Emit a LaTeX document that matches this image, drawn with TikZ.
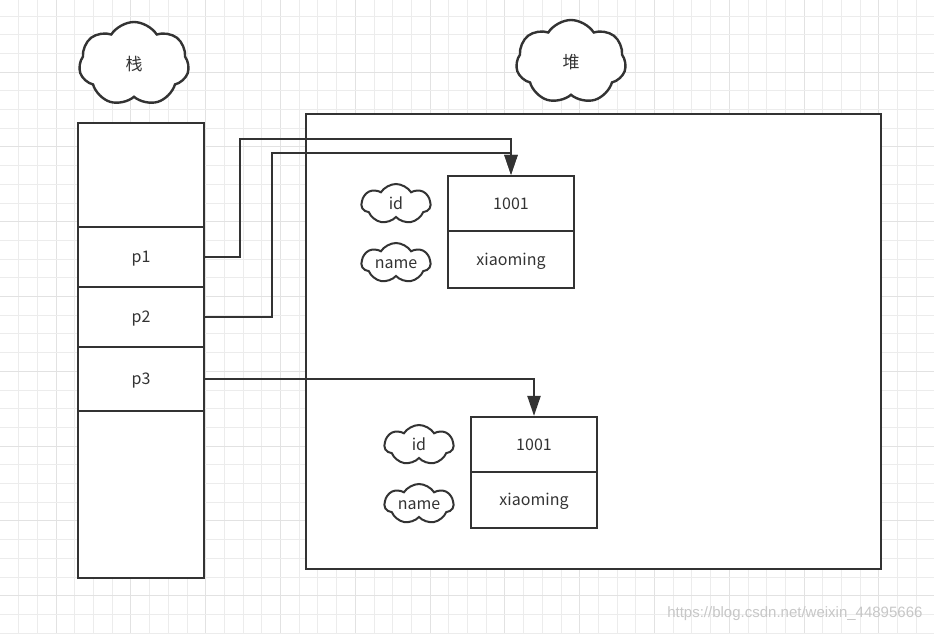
\documentclass[tikz,border=0pt]{standalone}
\usepackage{fontspec}
\setmainfont{Noto Sans CJK SC}
\newfontfamily\wmfont{Liberation Sans}
\usetikzlibrary{shapes.symbols,arrows.meta}
\definecolor{ink}{HTML}{333333}
\definecolor{gridc}{HTML}{ECECEC}
\definecolor{gridm}{HTML}{E2E2E2}
\begin{document}
\begin{tikzpicture}[x=1pt,y=-1pt,
  box/.style={draw=ink, line width=2.2pt, fill=white, rectangle, inner sep=0pt,
    font=\fontsize{16}{16}\selectfont, text=ink, text height=11.5pt, text depth=0pt},
  bigcloud/.style={draw=ink, line width=2.4pt, fill=white, cloud, cloud puffs=7,
    cloud puff arc=115, inner sep=0pt, minimum width=110pt, minimum height=84pt},
  smallcloud/.style={draw=ink, line width=2pt, fill=white, cloud, cloud puffs=7,
    cloud puff arc=115, inner sep=0pt, minimum width=69pt, minimum height=40pt},
  lbl/.style={inner sep=0pt, font=\fontsize{16}{16}\selectfont, text=ink, text height=11.5pt, text depth=0pt},
  biglbl/.style={inner sep=0pt, font=\fontsize{17}{17}\selectfont, text=ink},
  conn/.style={draw=ink, line width=2.2pt, -{Triangle[length=20pt,width=13pt]}}
]
\fill[white] (0,0) rectangle (934,633);
\useasboundingbox (0,0) rectangle (934,633);
% grid
\foreach \i in {1,...,49} {
  \pgfmathtruncatemacro{\m}{mod(\i,4)==3 ? 1 : 0}
  \ifnum\m=1 \draw[gridm, line width=1pt] (\i*18.7,0) -- (\i*18.7,633);
  \else \draw[gridc, line width=1pt] (\i*18.7,0) -- (\i*18.7,633); \fi
}
\foreach \j in {1,...,34} {
  \pgfmathtruncatemacro{\m}{mod(\j,4)==0 ? 1 : 0}
  \ifnum\m=1 \draw[gridm, line width=1pt] (0,\j*18.7-2.7) -- (934,\j*18.7-2.7);
  \else \draw[gridc, line width=1pt] (0,\j*18.7-2.7) -- (934,\j*18.7-2.7); \fi
}
% clouds
\node[bigcloud] (stackc) at (134,64) {};
\node[biglbl] (stackl) at (stackc.center) {栈};
\node[bigcloud] (heapc) at (571,62) {};
\node[biglbl] (heapl) at (heapc.center) {堆};
% heap
\node[box, minimum width=575pt, minimum height=455pt] (heap) at (593.5,341.5) {};
% stack
\node[box, minimum width=126pt, minimum height=104pt] (s0) at (141,175) {};
\node[box, minimum width=126pt, minimum height=60pt] (p1) at (141,257) {p1};
\node[box, minimum width=126pt, minimum height=60pt] (p2) at (141,317) {p2};
\node[box, minimum width=126pt, minimum height=64pt] (p3) at (141,379) {p3};
\node[box, minimum width=126pt, minimum height=167pt] (s4) at (141,494.5) {};
% object 1
\node[box, minimum width=126pt, minimum height=55pt] (o1a) at (511,203.5) {1001};
\node[box, minimum width=126pt, minimum height=57pt] (o1b) at (511,259.5) {xiaoming};
% object 2
\node[box, minimum width=126pt, minimum height=55pt] (o2a) at (534,444.5) {1001};
\node[box, minimum width=126pt, minimum height=56pt] (o2b) at (534,500) {xiaoming};
% field clouds
\node[smallcloud] (id1) at (396,204) {};
\node[lbl] (id1l) at (id1.center) {id};
\node[smallcloud] (nm1) at (396,263) {};
\node[lbl] (nm1l) at (nm1.center) {name};
\node[smallcloud] (id2) at (419,445) {};
\node[lbl] (id2l) at (id2.center) {id};
\node[smallcloud] (nm2) at (419,504) {};
\node[lbl] (nm2l) at (nm2.center) {name};
% connectors
\coordinate (b1) at (240,139);
\coordinate (b2) at (272,153);
\draw[conn] (p1.east) -| (b1) -| (o1a.north);
\draw[conn] (p2.east) -| (b2) -| (o1a.north);
\draw[conn] (p3.east) -| (o2a.north);
% watermark
\node[anchor=east, text=black!22, font=\wmfont\fontsize{15}{15}\selectfont] (wm) at (926,614) {https://blog.csdn.net/weixin\_44895666};
\end{tikzpicture}
\end{document}
